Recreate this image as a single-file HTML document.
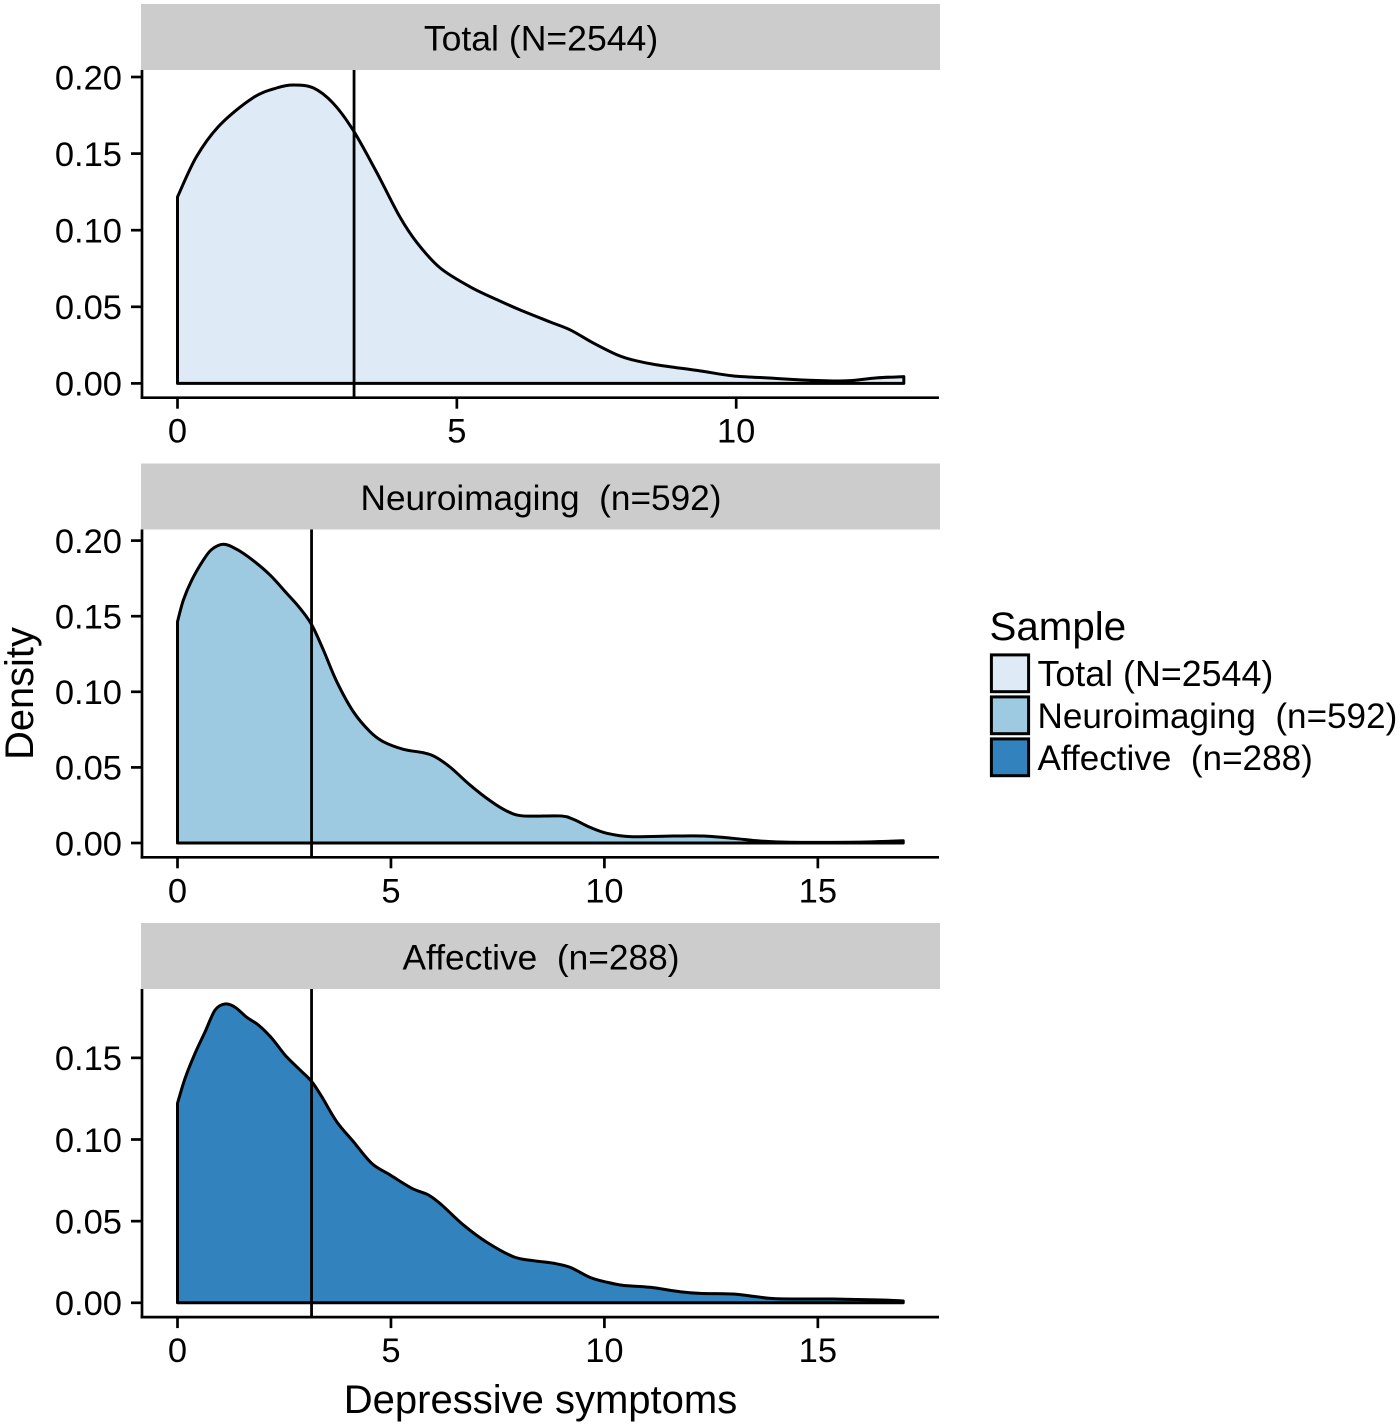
<!DOCTYPE html>
<html lang="en">
<head>
<meta charset="utf-8">
<title>Depressive symptoms density by sample</title>
<style>
html,body{margin:0;padding:0;background:#fff;}
svg{display:block;}
text{font-family:"Liberation Sans",Arial,sans-serif;fill:#000;white-space:pre;}
.tick{font-size:34.5px;}
.legend{font-size:35.1px;}
</style>
</head>
<body>
<svg id="chart" xmlns="http://www.w3.org/2000/svg" width="1400" height="1426" viewBox="0 0 1400 1426">
  <rect x="0" y="0" width="1400" height="1426" fill="#fff"/>
  <g id="panels"></g>
  <text transform="translate(33,693.5) rotate(-90)" text-anchor="middle" style="font-size:39.8px">Density</text>
  <text x="540.5" y="1413" text-anchor="middle" style="font-size:40px">Depressive symptoms</text>
  <g>
    <text x="989.5" y="640" style="font-size:40.3px">Sample</text>
    <g>
      <rect x="991.4" y="654.9" width="37.2" height="36.8" fill="#DEEBF7" stroke="#000" stroke-width="3"/>
      <text class="legend" x="1037.5" y="686" style="font-size:35.8px">Total (N=2544)</text>
    </g>
    <g>
      <rect x="991.4" y="696.9" width="37.2" height="36.8" fill="#9ECAE1" stroke="#000" stroke-width="3"/>
      <text class="legend" x="1037.5" y="728">Neuroimaging  (n=592)</text>
    </g>
    <g>
      <rect x="991.4" y="738.9" width="37.2" height="36.8" fill="#3182BD" stroke="#000" stroke-width="3"/>
      <text class="legend" x="1037.5" y="770">Affective  (n=288)</text>
    </g>
  </g>
</svg>
<script>
// ---- data ----
const totalSymptoms = [0,0.34,0.76,1.35,1.78,2.07,2.43,2.78,3.14,3.57,3.98,4.29,4.70,5.24,5.77,6.13,6.67,7.03,7.44,7.87,8.15,8.58,9.35,9.94,10.55,11.14,11.73,12.04,12.52,13];
const totalDensity = [.1217,.148,.1687,.1864,.1929,.1948,.1929,.1831,.1655,.1374,.1087,.0917,.0754,.063,.0538,.048,.0401,.0349,.0264,.0186,.0153,.0121,.0082,.0049,.0036,.0023,.0016,.0018,.0036,.0044];

const neuroSymptoms = [0,.138,.335,.607,.803,1.075,1.389,1.778,2.169,2.56,2.87,3.146,3.418,3.731,4.12,4.51,4.82,5.29,5.76,6.03,6.39,6.85,7.32,7.71,8.10,8.96,9.27,9.66,10.06,10.60,11.62,12.32,13.01,13.65,14.35,15.76,16.39,17];
const neuroDensity = [.1464,.1607,.1739,.1872,.1942,.1976,.1942,.1867,.1772,.1651,.1552,.1442,.1276,.1067,.0868,.0736,.067,.062,.0597,.0571,.0501,.0384,.028,.0212,.0179,.0179,.0157,.0104,.0064,.0042,.0046,.0046,.0031,.0013,.0005,.0005,.0009,.0015];

const affectiveSymptoms = [0,.178,.412,.647,.881,1.115,1.349,1.623,1.895,2.209,2.52,2.87,3.146,3.38,3.73,4.12,4.55,4.98,5.49,5.88,6.19,6.70,7.25,7.87,8.34,8.81,9.20,9.66,10.06,10.44,11.07,11.77,12.24,13.01,13.57,14.04,15.36,16.5,17];
const affectiveDensity = [.1222,.1375,.1528,.166,.1793,.183,.181,.1748,.1701,.162,.1517,.1426,.1354,.1262,.1109,.0987,.0854,.0783,.0701,.066,.0599,.0476,.037,.0282,.0258,.0242,.0217,.0156,.0126,.0107,.0095,.0068,.0058,.0054,.0037,.0025,.0023,.0017,.0011];

const totalMean = 3.16;
const neuroMean = 3.14;
const affectiveMean = 3.14;

const totalXTicks = [0,5,10];
const neuroXTicks = [0,5,10,15];
const affectiveXTicks = [0,5,10,15];
const totalYTicks = [0,0.05,0.10,0.15,0.20];
const neuroYTicks = [0,0.05,0.10,0.15,0.20];
const affectiveYTicks = [0,0.05,0.10,0.15];

const totalLabel = "Total (N=2544)";
const neuroLabel = "Neuroimaging  (n=592)";
const affectiveLabel = "Affective  (n=288)";

// ---- rendering ----
const NS = "http://www.w3.org/2000/svg";
const root = document.getElementById("panels");

function make(tag, parent) {
  const el = document.createElementNS(NS, tag);
  parent.appendChild(el);
  return el;
}

function smoothPath(pts) {
  let d = "";
  for (let i = 0; i < pts.length - 1; i++) {
    const p0 = pts[Math.max(i - 1, 0)], p1 = pts[i], p2 = pts[i + 1], p3 = pts[Math.min(i + 2, pts.length - 1)];
    const c1x = p1[0] + (p2[0] - p0[0]) / 6, c1y = p1[1] + (p2[1] - p0[1]) / 6;
    const c2x = p2[0] - (p3[0] - p1[0]) / 6, c2y = p2[1] - (p3[1] - p1[1]) / 6;
    d += "C" + c1x.toFixed(2) + " " + c1y.toFixed(2) + " " + c2x.toFixed(2) + " " + c2y.toFixed(2) + " " + p2[0].toFixed(2) + " " + p2[1].toFixed(2);
  }
  return d;
}

function drawPanel(key, label, stripSize, fill, xs, ys, mean, xTicks, yTicks, top, xPerUnit, yPerUnit, zeroY) {
  const left = 142, right = 939, strip = 66;
  const stripBottom = top + strip;
  const axisY = zeroY + 14.3;
  const zeroX = 177.5;
  const sx = v => zeroX + v * xPerUnit;
  const sy = v => zeroY - v * yPerUnit;

  const g = make("g", root);
  
  

  const stripRect = make("rect", g);
  
  
  stripRect.setAttribute("x", 141);
  stripRect.setAttribute("y", top);
  stripRect.setAttribute("width", 799);
  stripRect.setAttribute("height", strip);
  stripRect.setAttribute("fill", "#CCCCCC");

  const stripText = make("text", g);
  
  
  stripText.setAttribute("x", 541);
  stripText.setAttribute("y", top + 46.5);
  stripText.setAttribute("text-anchor", "middle");
  stripText.style.fontSize = stripSize + "px";
  stripText.textContent = label;

  const pts = xs.map((x, i) => [sx(x), sy(ys[i])]);
  const area = make("path", g);
  
  
  const base = "M" + sx(xs[0]).toFixed(2) + " " + sy(0).toFixed(2) + "L" + pts[0][0].toFixed(2) + " " + pts[0][1].toFixed(2);
  area.setAttribute("d", base + smoothPath(pts) + "L" + sx(xs[xs.length - 1]).toFixed(2) + " " + sy(0).toFixed(2) + "Z");
  area.setAttribute("fill", fill);
  area.setAttribute("stroke", "#000");
  area.setAttribute("stroke-width", 3);
  area.setAttribute("stroke-linejoin", "round");

  const meanLine = make("line", g);
  
  
  meanLine.setAttribute("x1", sx(mean));
  meanLine.setAttribute("x2", sx(mean));
  meanLine.setAttribute("y1", stripBottom);
  meanLine.setAttribute("y2", axisY);
  meanLine.setAttribute("stroke", "#000");
  meanLine.setAttribute("stroke-width", 2.8);

  const yAxis = make("line", g);
  
  
  yAxis.setAttribute("x1", left);
  yAxis.setAttribute("x2", left);
  yAxis.setAttribute("y1", stripBottom);
  yAxis.setAttribute("y2", axisY + 1.3);
  yAxis.setAttribute("stroke", "#000");
  yAxis.setAttribute("stroke-width", 2.7);

  const xAxis = make("line", g);
  
  
  xAxis.setAttribute("x1", left - 1.3);
  xAxis.setAttribute("x2", right);
  xAxis.setAttribute("y1", axisY);
  xAxis.setAttribute("y2", axisY);
  xAxis.setAttribute("stroke", "#000");
  xAxis.setAttribute("stroke-width", 2.7);

  yTicks.forEach(v => {
    const t = make("line", g);
    
    
    t.setAttribute("x1", left - 11);
    t.setAttribute("x2", left);
    t.setAttribute("y1", sy(v));
    t.setAttribute("y2", sy(v));
    t.setAttribute("stroke", "#000");
    t.setAttribute("stroke-width", 2.7);
    const l = make("text", g);
    
    
    l.setAttribute("class", "tick");
    l.setAttribute("x", 122);
    l.setAttribute("y", sy(v) + 12.3);
    l.setAttribute("text-anchor", "end");
    l.textContent = v.toFixed(2);
  });

  xTicks.forEach(v => {
    const t = make("line", g);
    
    
    t.setAttribute("x1", sx(v));
    t.setAttribute("x2", sx(v));
    t.setAttribute("y1", axisY);
    t.setAttribute("y2", axisY + 11);
    t.setAttribute("stroke", "#000");
    t.setAttribute("stroke-width", 2.7);
    const l = make("text", g);
    
    
    l.setAttribute("class", "tick");
    l.setAttribute("x", sx(v));
    l.setAttribute("y", axisY + 45);
    l.setAttribute("text-anchor", "middle");
    l.textContent = String(v);
  });
}

drawPanel("total", totalLabel, 35.6, "#DEEBF7", totalSymptoms, totalDensity, totalMean, totalXTicks, totalYTicks, 4, 55.87, 1532, 383.4);
drawPanel("neuroimaging", neuroLabel, 35.2, "#9ECAE1", neuroSymptoms, neuroDensity, neuroMean, neuroXTicks, neuroYTicks, 463.5, 42.69, 1512, 843);
drawPanel("affective", affectiveLabel, 35.3, "#3182BD", affectiveSymptoms, affectiveDensity, affectiveMean, affectiveXTicks, affectiveYTicks, 923, 42.69, 1633, 1302.8);
</script>
</body>
</html>
